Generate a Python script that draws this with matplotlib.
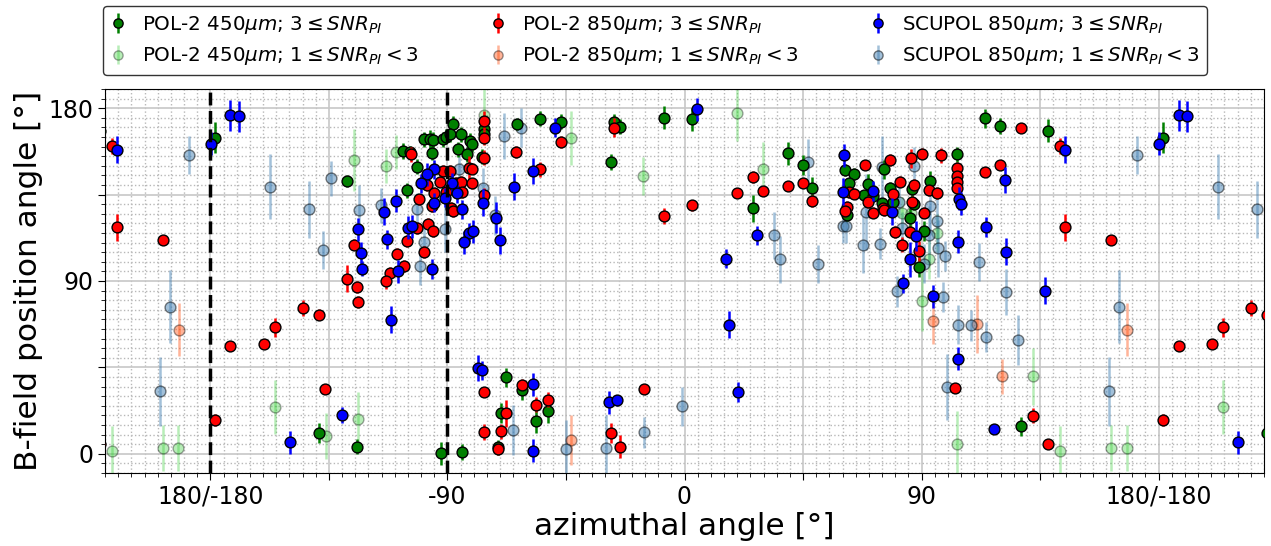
import numpy as np
import matplotlib
matplotlib.use("Agg")
import matplotlib.pyplot as plt
from matplotlib.ticker import MultipleLocator, FixedLocator

# ---- data: azimuthal angle [deg], B-field PA [deg], PA error [deg] ----
# POL-2 450um, SNR >= 3
p450_x = [-178.2, -128.0, -138.9, -124.4, -106.7, -104.2, -101.4, -98.9, -96.6, -95.4,
          -96.0, -91.8, -90.6, -87.8, -89.0, -84.9, -86.1, -81.5, -80.5, -82.5,
          -105.3, -76.2, -76.2, -76.7, -63.5, -67.6, -69.5, -70.7, -92.6, -84.4,
          -54.9, -46.7, -26.9, -24.3, -28.0, -7.6, -61.6, -56.5, -51.8, 2.9,
          25.9, 39.2, 44.8, 48.3, 60.9, 64.2, 62.5, 69.5, 68.2, 71.7,
          61.6, 74.8, 75.8, 78.1, 79.3, 86.2, 87.2, 85.6, 89.1, 90.9,
          93.1, 103.3, 113.9, 119.8, 138.1, 127.6]
p450_y = [164.7, 142.1, 10.8, 3.8, 157.7, 157.2, 149.6, 163.8, 163.8, 163.5,
          156.9, 163.8, 165.2, 171.7, 166.4, 166.4, 158.6, 163.0, 161.2, 156.0,
          137.2, 169.0, 166.4, 154.8, 171.7, 39.8, 21.2, 3.3, 0.3, 0.9,
          174.6, 173.0, 172.9, 170.4, 152.0, 175.1, 33.0, 16.9, 22.1, 174.3,
          127.8, 156.5, 150.4, 138.3, 147.7, 145.6, 140.9, 140.7, 134.6, 134.3,
          124.2, 130.4, 148.2, 138.6, 131.3, 137.7, 129.9, 123.0, 97.2, 116.0,
          142.1, 156.0, 174.8, 170.8, 168.2, 14.3]
p450_e = [8, 3, 5, 4, 4, 3, 4, 4, 5, 4,
          4, 4, 4, 4, 4, 4, 4, 4, 4, 4,
          4, 4, 4, 4, 3, 5, 5, 4, 6, 4,
          4, 4, 4, 4, 4, 6, 5, 6, 6, 6,
          7, 6, 5, 6, 3, 3, 3, 5, 3, 3,
          3, 3, 5, 3, 3, 4, 3, 5, 5, 5,
          5, 4, 5, 4, 6, 5]

# POL-2 450um, 1 <= SNR < 3
p450w_x = [-125.6, -155.5, -123.8, -136.2, -113.4, -109.5, -76.2, -42.9, -15.8, 20.0,
           29.7, 82.7, 85.9, 92.8, 96.0, 90.0, 103.6, 132.4, 142.7, 162.0, 167.9]
p450w_y = [153.0, 24.3, 18.1, 9.4, 149.9, 157.2, 176.3, 164.3, 144.7, 177.7,
           148.5, 125.6, 125.6, 101.2, 115.1, 79.8, 5.2, 40.3, 1.7, 3.0, 3.0]
p450w_e = [16, 14, 14, 12, 9, 9, 14, 14, 10, 15,
           14, 8, 8, 10, 10, 16, 17, 15, 13, 12, 12]

# POL-2 850um, SNR >= 3
p850_x = [-125.6, -128.0, -124.4, -123.8, -144.9, -138.9, -155.5, -172.4, -159.6, -136.4,
          -178.2, -104.0, -76.2, -76.2, -76.2, -76.2, -63.8, -97.9, -95.1, -92.8,
          -91.8, -90.6, -96.0, -100.7, -89.0, -88.8, -87.8, -86.6, -84.9, -84.3,
          -82.0, -80.7, -80.7, -101.7, -97.3, -95.4, -105.2, -109.3, -98.8, -106.5,
          -111.8, -113.4, -76.2, -67.6, -76.2, -69.5, -70.7, -47.0, -54.9, -26.9,
          -7.6, -61.6, -56.5, -51.8, -28.0, -24.3, -15.5, 2.9, 20.0, 25.9,
          29.7, 39.2, 44.8, 48.3, 62.5, 64.2, 68.5, 69.6, 61.6, 60.9,
          71.7, 75.2, 75.8, 78.1, 79.3, 81.7, 79.8, 82.7, 85.9, 87.2,
          86.2, 85.6, 89.1, 90.0, 90.9, 92.8, 96.0, 97.2, 103.6, 103.3,
          103.3, 103.3, 113.9, 102.7, 127.6, 142.7, 119.6, 144.6, 162.0, 132.4,
          138.1]
p850_y = [108.9, 91.1, 86.8, 79.0, 76.0, 72.5, 65.9, 56.0, 57.4, 33.9,
          17.7, 156.0, 173.4, 164.7, 154.3, 134.6, 157.2, 140.0, 136.0, 141.7,
          147.3, 136.3, 129.0, 132.5, 147.3, 128.2, 126.4, 141.2, 141.6, 136.3,
          149.0, 148.5, 140.9, 117.7, 119.8, 116.0, 110.8, 104.2, 105.0, 97.7,
          94.3, 89.9, 32.2, 21.2, 11.3, 11.7, 2.4, 162.4, 148.2, 169.9,
          123.8, 36.0, 25.6, 28.2, 10.8, 3.8, 33.9, 129.4, 136.0, 144.3,
          136.9, 139.5, 140.9, 131.7, 136.3, 135.5, 150.3, 131.1, 128.7, 126.4,
          125.6, 127.8, 126.8, 153.0, 135.1, 141.7, 115.5, 109.0, 153.9, 140.0,
          131.3, 115.5, 105.6, 156.3, 125.6, 137.2, 135.7, 155.5, 149.0, 144.7,
          141.7, 138.6, 147.0, 34.3, 169.9, 160.3, 150.4, 117.9, 111.3, 19.8,
          5.2]
p850_e = [3, 7, 3, 3, 4, 3, 5, 2, 2, 2,
          3, 4, 5, 4, 4, 4, 3, 3, 3, 3,
          3, 3, 3, 3, 3, 3, 3, 3, 3, 3,
          6, 3, 3, 3, 3, 3, 3, 3, 3, 3,
          3, 4, 2, 7, 4, 4, 3, 3, 4, 5,
          4, 3, 4, 4, 5, 6, 2, 3, 2, 3,
          2, 2, 2, 3, 3, 3, 2, 3, 3, 3,
          3, 3, 3, 3, 3, 3, 3, 4, 5, 3,
          3, 3, 5, 3, 3, 3, 3, 4, 3, 3,
          3, 3, 2, 2, 2, 4, 2, 7, 2, 4,
          2]

# POL-2 850um, 1 <= SNR < 3
p850w_x = [-42.9, 94.3, 111.1, 168.0, 120.6]
p850w_y = [7.3, 69.0, 67.7, 64.7, 40.3]
p850w_e = [13, 12, 15, 14, 9]

# SCUPOL 850um, SNR >= 3
scu_x = [-179.7, -172.4, -169.3, -123.9, -122.9, -122.5, -130.0, -149.8, -76.6, -64.9,
         -95.1, -97.9, -100.2, -91.0, -95.1, -109.5, -114.0, -88.4, -86.3, -84.6,
         -104.8, -103.4, -112.8, -81.8, -80.2, -83.6, -71.4, -70.1, -95.7, -108.6,
         -111.4, -78.3, -76.8, -49.0, -57.7, -57.5, -57.5, -28.7, -25.6, 4.8,
         27.5, 15.8, 16.8, 20.2, 60.6, 60.3, 71.4, 78.9, 87.9, 85.6,
         104.2, 105.1, 104.0, 114.6, 83.0, 94.5, 103.8, 144.4, 121.6, 121.9,
         136.7, 117.5]
scu_y = [161.6, 176.3, 175.7, 116.9, 104.5, 96.5, 20.3, 6.1, 130.8, 139.1,
         148.2, 145.6, 140.9, 133.4, 130.8, 131.7, 126.1, 141.2, 135.7, 127.3,
         117.7, 118.6, 111.7, 115.1, 116.0, 110.3, 123.0, 111.1, 96.3, 95.1,
         69.9, 44.7, 43.5, 169.9, 147.3, 36.3, 1.6, 26.8, 27.8, 179.5,
         113.7, 101.6, 67.3, 32.2, 155.5, 136.5, 136.9, 126.1, 113.4, 101.2,
         132.9, 130.3, 110.4, 118.1, 88.7, 82.1, 49.6, 158.3, 142.6, 105.2,
         85.0, 13.0]
scu_e = [6, 8, 8, 6, 6, 4, 4, 6, 7, 7,
         5, 6, 5, 5, 5, 6, 7, 5, 5, 5,
         6, 6, 5, 5, 6, 6, 8, 7, 5, 6,
         7, 7, 5, 5, 7, 6, 6, 6, 3, 6,
         5, 5, 7, 5, 6, 7, 5, 7, 8, 9,
         6, 6, 6, 5, 5, 6, 6, 7, 7, 7,
         7, 2]

# SCUPOL 850um, 1 <= SNR < 3
scuw_x = [-157.5, -142.5, -137.4, -134.3, -123.4, -76.4, -62.0, -68.5, -115.3, -101.4,
          -85.5, -98.8, -91.0, -72.0, -100.4, -65.0, -44.8, -29.7, -15.4, 47.0,
          34.1, 36.3, 50.8, -1.0, 60.0, 61.3, 68.8, 67.8, 74.1, 75.1,
          81.5, 82.7, 87.1, 90.9, 92.8, 93.2, 96.0, 96.2, 98.8, 111.8,
          80.8, 98.0, 103.8, 108.6, 114.6, 99.5, 171.8, 121.9, 164.8, 126.6,
          161.0]
scuw_y = [139.1, 127.3, 106.3, 143.5, 127.0, 138.6, 169.9, 165.6, 129.4, 127.7,
          148.2, 110.4, 117.2, 124.2, 97.7, 12.5, 2.4, 3.0, 11.1, 152.0,
          113.7, 101.2, 99.0, 24.7, 118.6, 118.6, 125.9, 109.0, 109.4, 149.4,
          131.3, 117.7, 149.9, 99.1, 113.9, 129.0, 121.2, 107.0, 103.0, 99.8,
          84.7, 81.6, 67.3, 67.0, 60.9, 34.8, 155.7, 84.3, 76.5, 59.1,
          32.5]
scuw_e = [17, 15, 10, 9, 13, 10, 10, 12, 9, 8,
          8, 8, 12, 10, 10, 13, 15, 17, 8, 12,
          12, 12, 10, 10, 9, 9, 20, 15, 8, 16,
          8, 8, 10, 10, 15, 15, 13, 15, 8, 10,
          8, 8, 10, 8, 8, 17, 10, 12, 19, 13,
          18]

labels = [r"POL-2 450$\mu m$; $3\leq SNR_{PI}$",
          r"POL-2 450$\mu m$; $1\leq SNR_{PI}<3$",
          r"POL-2 850$\mu m$; $3\leq SNR_{PI}$",
          r"POL-2 850$\mu m$; $1\leq SNR_{PI}<3$",
          r"SCUPOL 850$\mu m$; $3\leq SNR_{PI}$",
          r"SCUPOL 850$\mu m$; $1\leq SNR_{PI}<3$"]


def draw(ax, x, y, err, color, alpha, z):
    """errorbar plot, repeated at +-360 deg so the wrapped edges are filled"""
    h = None
    for shift in (-360, 0, 360):
        h = ax.errorbar(np.asarray(x) + shift, y, yerr=err, fmt="o", ms=7.8,
                        mfc=color, mec="k", mew=1.0, ecolor=color, elinewidth=1.8,
                        capsize=0, alpha=alpha, zorder=z)
    return h


fig = plt.figure(figsize=(12.71, 5.46), dpi=100)
ax = fig.add_axes([105 / 1271, 73 / 546, 1159 / 1271, 384 / 546])

# faint (low SNR) points first, strong on top
h450w = draw(ax, p450w_x, p450w_y, p450w_e, "limegreen", 0.35, 2)
h850w = draw(ax, p850w_x, p850w_y, p850w_e, "orangered", 0.4, 2)
hscuw = draw(ax, scuw_x, scuw_y, scuw_e, "steelblue", 0.5, 2)
h450 = draw(ax, p450_x, p450_y, p450_e, "green", 1.0, 3)
h850 = draw(ax, p850_x, p850_y, p850_e, "red", 1.0, 4)
hscu = draw(ax, scu_x, scu_y, scu_e, "blue", 1.0, 5)

ax.axvline(-180, color="k", ls="--", lw=2.5, zorder=6)
ax.axvline(-90, color="k", ls="--", lw=2.5, zorder=6)

ax.set_xlim(-220, 220)
ax.set_ylim(-10, 190)

xt = np.arange(-180, 181, 45)
xl = {-180: "180/-180", -90: "-90", 0: "0", 90: "90", 180: "180/-180"}
ax.xaxis.set_major_locator(FixedLocator(xt))
ax.set_xticklabels([xl.get(int(v), "") for v in xt])
ax.xaxis.set_minor_locator(MultipleLocator(5))
yt = np.arange(0, 181, 45)
ax.yaxis.set_major_locator(FixedLocator(yt))
ax.set_yticklabels([str(v) if v % 90 == 0 else "" for v in yt])
ax.yaxis.set_minor_locator(MultipleLocator(5))
ax.tick_params(which="major", labelsize=17, length=5)
ax.tick_params(which="minor", length=3)

ax.grid(which="major", color="0.78", lw=1.2, zorder=0)
ax.grid(which="minor", color="0.72", ls=":", lw=1.0, zorder=0)
ax.set_axisbelow(True)

ax.set_xlabel("azimuthal angle [°]", fontsize=22.5, labelpad=2)
ax.set_ylabel("B-field position angle [°]", fontsize=22.5, labelpad=4)

handles = [h450, h450w, h850, h850w, hscu, hscuw]
leg = fig.legend(handles, labels, loc="upper center", bbox_to_anchor=(655 / 1271, 0.997),
                 ncol=3, fontsize=14.3, frameon=True, edgecolor="k",
                 handlelength=0.8, columnspacing=3.6, markerscale=0.85,
                 borderaxespad=0.2)
leg.get_frame().set_linewidth(1.0)

fig.savefig("out.png", dpi=100)
